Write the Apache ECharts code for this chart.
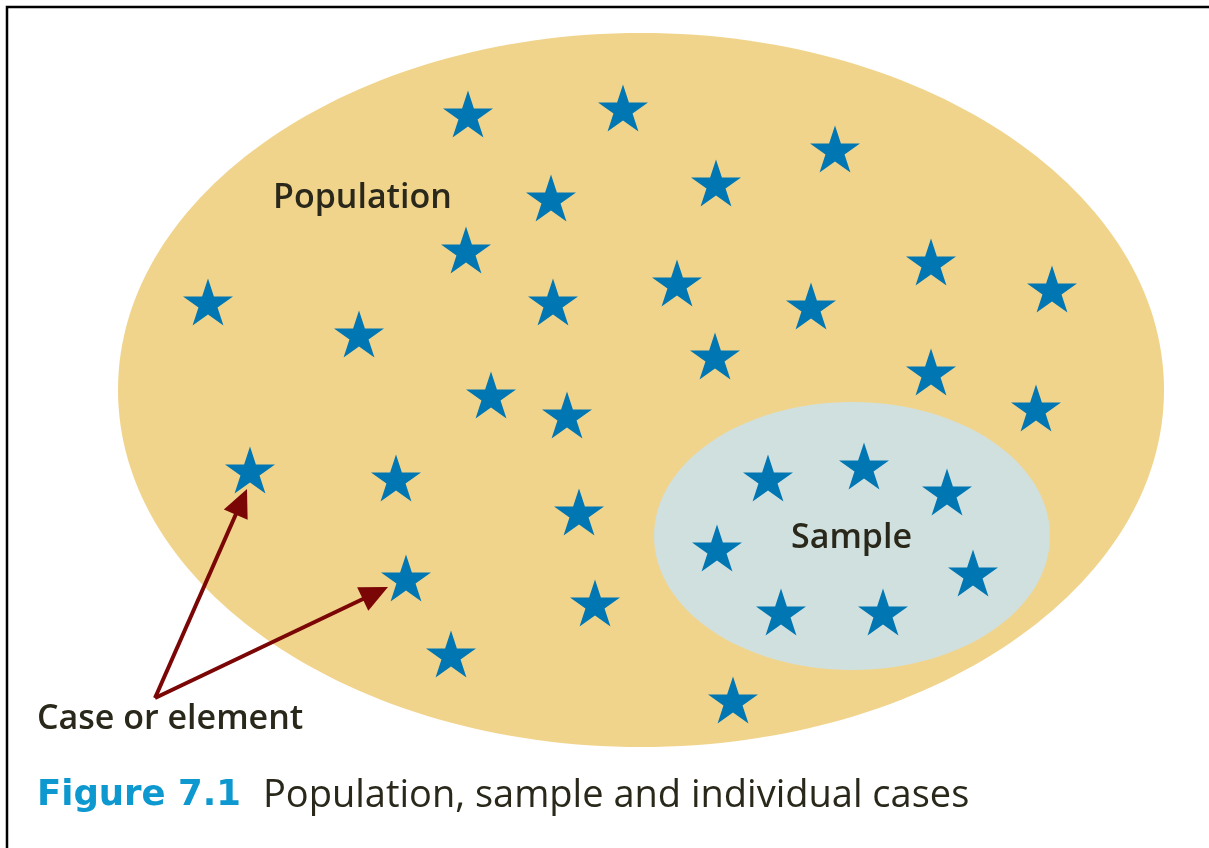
<!DOCTYPE html>
<html>
<head>
<meta charset="utf-8">
<script src="https://cdn.jsdelivr.net/npm/echarts@6/dist/echarts.min.js"></script>
<style>
  html, body { margin: 0; padding: 0; background: #fff; }
  #main { width: 1209px; height: 848px; }
</style>
</head>
<body>
<div id="main"></div>
<script>
// canvas-sized value axes so everything is placed through the cartesian scales
const canvasW = 1209
const canvasH = 848

// ellipses: [centerX, centerY, radiusX, radiusY]
const populationArea = [[641, 390, 523, 357]]
const sampleArea = [[852, 536, 198, 134]]

// star positions (cases) outside the sample
const populationStars = [
    [468, 114], [623, 108], [835, 149], [716, 183], [551, 198],
    [466, 250], [208, 302], [359, 334], [553, 302], [677, 283],
    [811, 306], [931, 262], [1052, 289], [715, 356], [931, 372],
    [1036, 408], [491, 395], [567, 415], [250, 470], [396, 478],
    [579, 512], [406, 578], [595, 603], [451, 654], [733, 700]
]
// star positions inside the sample
const sampleStars = [
    [768, 478], [864, 466], [947, 492], [717, 548],
    [973, 573], [781, 612], [883, 612]
]

// arrows: [fromX, fromY, toX, toY]
const arrows = [
    [155, 698, 247, 489],
    [155, 698, 388, 587]
]

// text labels: [x, y, text]
const boldLabels = [
    [273, 198, 'Population'],
    [791, 538, 'Sample']
]
const caseLabel = [[37, 719, 'Case or element']]

const captionNumber = 'Figure 7.1'
const captionText = 'Population, sample and individual cases'

const starPath = 'path://M0,-100L22.45,-30.9L95.1,-30.9L36.3,11.8L58.8,80.9L0,38.2L-58.8,80.9L-36.3,11.8L-95.1,-30.9L-22.45,-30.9Z'

function ellipseItem(params, api) {
    const c = api.coord([api.value(0), api.value(1)])
    const s = api.size([api.value(2), api.value(3)])
    return {
        type: 'ellipse',
        shape: { cx: c[0], cy: c[1], rx: s[0], ry: s[1] },
        style: { fill: api.visual('color') }
    }
}

function arrowItem(params, api) {
    const a = api.coord([api.value(0), api.value(1)])
    const b = api.coord([api.value(2), api.value(3)])
    const dx = b[0] - a[0], dy = b[1] - a[1]
    const len = Math.sqrt(dx * dx + dy * dy)
    const ux = dx / len, uy = dy / len
    const headL = 28, headW = 13
    const bx = b[0] - ux * headL, by = b[1] - uy * headL
    return {
        type: 'group',
        children: [
            {
                type: 'line',
                shape: { x1: a[0], y1: a[1], x2: bx + ux * 2, y2: by + uy * 2 },
                style: { stroke: '#7b0606', lineWidth: 4 }
            },
            {
                type: 'polygon',
                shape: { points: [b, [bx - uy * headW, by + ux * headW], [bx + uy * headW, by - ux * headW]] },
                style: { fill: '#7b0606' }
            }
        ]
    }
}

const labelStyle = {
    show: true,
    position: 'inside',
    align: 'left',
    verticalAlign: 'middle',
    formatter: p => p.value[2],
    fontFamily: 'Open Sans',
    color: '#29281a',
    fontSize: 34,
    fontWeight: 600
}

const myChart = echarts.init(document.getElementById('main'), null, { renderer: 'canvas' })

const option = {
    backgroundColor: '#ffffff',
    animation: false,
    grid: { left: 0, right: 0, top: 0, bottom: 0 },
    xAxis: { type: 'value', min: 0, max: canvasW, show: false },
    yAxis: { type: 'value', min: 0, max: canvasH, inverse: true, show: false },
    title: {
        left: 37,
        top: 776,
        padding: 0,
        text: '{a|' + captionNumber + '}{b|' + captionText + '}',
        textStyle: {
            rich: {
                a: { fontFamily: 'DejaVu Sans', fontWeight: 'bold', fontSize: 35.5, lineHeight: 40, color: '#0d99cf' },
                b: { fontFamily: 'Open Sans', fontWeight: 'normal', fontSize: 38, lineHeight: 40, color: '#29281a', padding: [0, 0, 0, 22] }
            }
        }
    },
    graphic: [
        {
            type: 'polyline',
            shape: { points: [[7, canvasH], [7, 7], [canvasW, 7]] },
            style: { stroke: '#000', lineWidth: 2.5, fill: null }
        }
    ],
    series: [
        {
            name: 'population',
            type: 'custom',
            renderItem: ellipseItem,
            itemStyle: { color: '#f1d48c' },
            data: populationArea,
            z: 1
        },
        {
            name: 'sample',
            type: 'custom',
            renderItem: ellipseItem,
            itemStyle: { color: '#d0e0df' },
            data: sampleArea,
            z: 2
        },
        {
            name: 'cases',
            type: 'scatter',
            symbol: starPath,
            symbolSize: [50, 47],
            itemStyle: { color: '#0076b2', opacity: 1 },
            data: populationStars.concat(sampleStars),
            z: 3
        },
        {
            name: 'arrows',
            type: 'custom',
            renderItem: arrowItem,
            data: arrows,
            z: 4
        },
        {
            name: 'labels',
            type: 'scatter',
            symbolSize: 0,
            itemStyle: { opacity: 1 },
            label: labelStyle,
            data: boldLabels.concat(caseLabel),
            z: 5
        }
    ]
}

myChart.setOption(option)
window.onresize = function () {
    myChart.resize()
}
</script>
</body>
</html>
